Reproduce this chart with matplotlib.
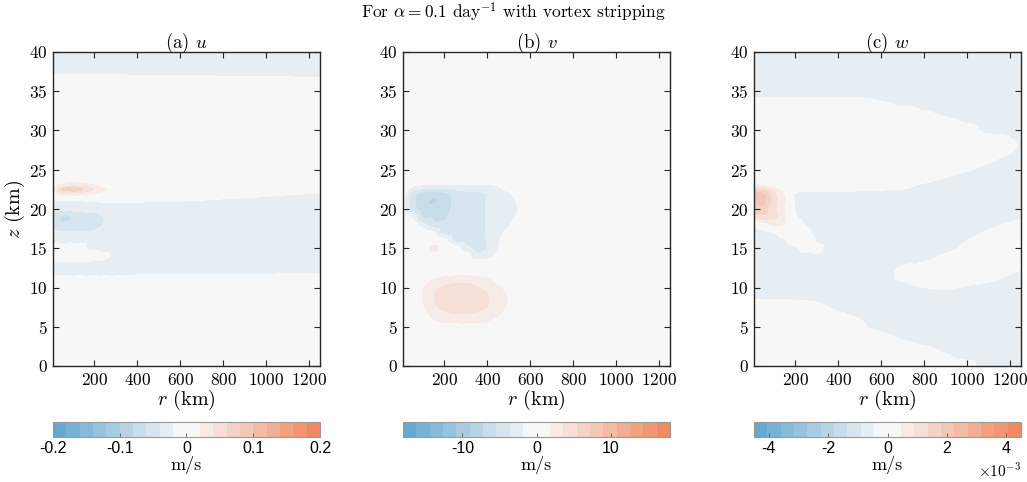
import numpy as np
import matplotlib
matplotlib.use('Agg')
import matplotlib.pyplot as plt
import matplotlib.tri as mtri
from matplotlib.colors import ListedColormap, to_rgb

plt.rcParams['font.family'] = 'serif'
plt.rcParams['font.serif'] = ['cmr10']
plt.rcParams['mathtext.fontset'] = 'cm'
plt.rcParams['axes.formatter.use_mathtext'] = True

# ---------------- DATA ----------------
# (a) u [m/s] on a coarse (z, r) grid
r_u = [8, 60, 120, 180, 240, 300, 400, 600, 900, 1250]
z_u = [0, 2, 4, 6, 8, 9, 10, 11, 12, 13, 14, 15, 16, 17, 18, 19, 20, 21, 22, 22.5, 23,
       24, 25, 27, 29, 31, 33, 35, 36, 37, 38, 40]
u = [
    [0] * 10,
    [0] * 10,
    [0] * 10,
    [0] * 10,
    [0] * 10,
    [0] * 10,
    [0] * 10,
    [-.01, -.01, -.01, -.01, -.01, -.01, 0, 0, 0, 0],
    [-.03, -.03, -.03, -.03, -.03, -.03, -.03, -.03, -.03, -.025],
    [-.03] * 10,
    [0, 0, 0, 0, -.012, -.025, -.03, -.03, -.03, -.03],
    [0, 0, 0, -.025, -.03, -.03, -.03, -.03, -.03, -.03],
    [-.03] * 10,
    [-.035, -.038, -.038, -.038, -.032, -.03, -.03, -.03, -.03, -.03],
    [-.045, -.055, -.052, -.052, -.04, -.03, -.03, -.03, -.03, -.03],
    [-.05, -.065, -.055, -.052, -.04, -.03, -.03, -.03, -.03, -.03],
    [-.035, -.035, -.032, -.03, -.03, -.03, -.03, -.03, -.03, -.03],
    [-.025, -.025, -.022, -.02, -.018, -.017, -.018, -.02, -.024, -.028],
    [.01, .03, .035, .025, .01, 0, 0, -.005, -.012, -.02],
    [.02, .065, .07, .045, .025, .005, 0, 0, 0, 0],
    [.01, .03, .035, .025, .012, 0, 0, 0, 0, 0],
    [0] * 10,
    [0] * 10,
    [0] * 10,
    [0] * 10,
    [0] * 10,
    [0] * 10,
    [0] * 10,
    [0] * 10,
    [-.018, -.018, -.018, -.018, -.018, -.018, -.02, -.02, -.022, -.025],
    [-.03] * 10,
    [-.03] * 10,
]

# (b) v [m/s]
r_v = [8, 50, 100, 150, 200, 250, 300, 350, 400, 450, 500, 550, 650, 800, 1000, 1250]
z_v = [0, 2, 3, 4, 5, 6, 7, 8, 9, 10, 11, 12, 13, 14, 15, 16, 17, 18, 19, 20, 21, 22, 23,
       24, 25, 27, 30, 35, 40]
v = [
    [0] * 16,
    [0] * 16,
    [0] * 16,
    [0] * 16,
    [0, 0, 0, .6, 1.0, 1.0, 1.0, 1.0, .8, .4, 0, 0, 0, 0, 0, 0],
    [0, 0, .5, 1.8, 2.5, 2.6, 2.7, 2.6, 2.2, 1.4, .6, 0, 0, 0, 0, 0],
    [0, 0, 1.2, 2.8, 3.6, 3.9, 3.9, 3.7, 3.2, 2.2, 1.2, .3, 0, 0, 0, 0],
    [0, .3, 1.8, 3.4, 4.2, 4.5, 4.4, 4.1, 3.7, 2.6, 1.6, .5, 0, 0, 0, 0],
    [0, .3, 1.9, 3.5, 4.3, 4.5, 4.5, 4.2, 3.7, 2.5, 1.6, .5, 0, 0, 0, 0],
    [0, 0, 1.6, 3.0, 3.8, 4.2, 4.2, 3.7, 3.0, 2.0, 1.2, .3, 0, 0, 0, 0],
    [0, 0, .5, 1.8, 2.5, 2.8, 2.8, 2.5, 2.0, 1.0, .3, 0, 0, 0, 0, 0],
    [0, 0, 0, .3, .6, .8, .8, .6, .3, 0, 0, 0, 0, 0, 0, 0],
    [0] * 16,
    [0, 0, 0, .6, .2, 0, -.6, -3.0, -2.8, -1.2, -.2, 0, 0, 0, 0, 0],
    [0, 0, .3, 2.4, .8, -.6, -3.0, -4.0, -3.5, -1.8, -.6, 0, 0, 0, 0, 0],
    [0, 0, 0, .3, -1.0, -4.0, -4.2, -4.0, -3.5, -2.0, -.9, 0, 0, 0, 0, 0],
    [0, 0, -.5, -1.6, -4.4, -4.5, -4.2, -4.0, -3.5, -2.4, -1.3, -.2, 0, 0, 0, 0],
    [0, -.3, -3.0, -4.8, -5.0, -4.6, -4.2, -4.0, -3.5, -2.8, -1.9, -.9, 0, 0, 0, 0],
    [-.3, -2.0, -5.6, -5.8, -5.6, -4.9, -4.2, -4.0, -3.5, -2.9, -2.2, -1.4, 0, 0, 0, 0],
    [-.9, -4.4, -6.2, -6.4, -6.0, -5.0, -4.2, -4.0, -3.5, -3.0, -2.4, -1.7, 0, 0, 0, 0],
    [-1.0, -4.6, -6.6, -7.4, -6.4, -5.0, -4.2, -4.0, -3.5, -3.0, -2.4, -1.5, 0, 0, 0, 0],
    [-.8, -4.2, -5.8, -6.0, -5.8, -4.6, -4.0, -3.9, -3.5, -2.7, -2.0, -.8, 0, 0, 0, 0],
    [0, -1.5, -2.0, -2.0, -2.0, -2.0, -2.0, -2.0, -2.0, -1.7, -.6, 0, 0, 0, 0, 0],
    [0] * 16,
    [0] * 16,
    [0] * 16,
    [0] * 16,
    [0] * 16,
    [0] * 16,
]

# (c) w [10^-3 m/s]
r_w = [8, 50, 100, 150, 200, 250, 300, 400, 500, 600, 700, 800, 900, 1000, 1100, 1250]
z_w = [0, 2, 4, 6, 8, 10, 12, 14, 15, 16, 17, 18, 19, 20, 21, 22, 23, 24, 26, 28, 30, 32,
       34, 36, 38, 40]
w = [
    [0, 0, 0, 0, 0, 0, 0, 0, 0, 0, 0, -.1, -.2, -.3, -.7, -.7],
    [0, 0, 0, 0, 0, 0, 0, 0, 0, -.1, -.2, -.35, -.5, -.7, -.7, -.7],
    [0, 0, 0, 0, 0, 0, 0, -.1, -.25, -.4, -.55, -.7, -.7, -.7, -.7, -.7],
    [0, 0, 0, 0, 0, -.05, -.1, -.3, -.45, -.7, -.7, -.7, -.7, -.7, -.7, -.7],
    [-.36, -.36, -.36, -.36, -.38, -.4, -.43, -.6, -.7, -.7, -.7, -.7, -.7, -.7, -.7, -.7],
    [-.7, -.7, -.7, -.7, -.7, -.7, -.7, -.7, -.7, -.7, -.6, -.45, -.4, -.5, -.6, -.7],
    [-.7, -.7, -.7, -.7, -.7, -.7, -.7, -.7, -.7, -.7, -.3, 0, 0, 0, -.1, -.5],
    [-.7, -.7, -.7, -.7, -.7, -.6, -.5, -.7, -.7, -.7, -.7, -.7, -.3, 0, 0, 0],
    [-.7, -.7, -.7, -.7, -.55, -.2, -.35, -.7, -.7, -.7, -.7, -.7, -.7, -.25, 0, 0],
    [-.7, -.7, -.7, -.5, -.1, 0, -.5, -.7, -.7, -.7, -.7, -.7, -.7, -.45, -.1, 0],
    [-.7, -.7, -.45, -.1, 0, -.2, -.7, -.7, -.7, -.7, -.7, -.7, -.7, -.7, -.35, 0],
    [-.45, .1, .5, .4, 0, -.5, -.7, -.7, -.7, -.7, -.7, -.7, -.7, -.7, -.6, -.2],
    [1.0, 1.2, 1.0, .5, -.35, -.7, -.7, -.7, -.7, -.7, -.7, -.7, -.7, -.7, -.7, -.55],
    [1.7, 1.6, 1.0, .45, -.5, -.7, -.7, -.7, -.7, -.7, -.7, -.7, -.7, -.7, -.7, -.7],
    [2.1, 1.9, 1.1, .5, -.5, -.7, -.7, -.7, -.7, -.7, -.7, -.7, -.7, -.7, -.7, -.7],
    [2.0, 1.8, 1.0, .4, -.45, -.55, -.55, -.55, -.65, -.7, -.7, -.7, -.7, -.7, -.7, -.7],
    [.6, .4, .2, 0, 0, 0, 0, 0, 0, 0, -.2, -.6, -.7, -.7, -.7, -.7],
    [0, 0, 0, 0, 0, 0, 0, 0, 0, 0, 0, 0, -.46, -.7, -.7, -.7],
    [0, 0, 0, 0, 0, 0, 0, 0, 0, 0, 0, 0, 0, 0, -.42, -.7],
    [0, 0, 0, 0, 0, 0, 0, 0, 0, 0, 0, 0, 0, 0, 0, -.5],
    [0, 0, 0, 0, 0, 0, 0, 0, 0, 0, 0, 0, 0, -.25, -.55, -.7],
    [0, 0, 0, 0, 0, 0, 0, 0, 0, 0, -.15, -.35, -.5, -.7, -.7, -.7],
    [-.42, -.42, -.42, -.42, -.42, -.42, -.42, -.42, -.42, -.5, -.7, -.7, -.7, -.7, -.7, -.7],
    [-.7] * 16,
    [-.7] * 16,
    [-.7] * 16,
]

u_levels = np.linspace(-0.2, 0.2, 21)
v_levels = np.linspace(-18, 18, 21)
w_levels = np.linspace(-4.5, 4.5, 21)

u_ticks = [-0.2, -0.1, 0, 0.1, 0.2]
u_ticklabels = ['-0.2', '-0.1', '0', '0.1', '0.2']
v_ticks = [-10, 0, 10]
v_ticklabels = ['-10', '0', '10']
w_ticks = [-4, -2, 0, 2, 4]
w_ticklabels = ['-4', '-2', '0', '2', '4']

# colormap: 10 steps blue->white, 10 steps white->red
blue_end = np.array(to_rgb('#67a9cf'))
red_end = np.array(to_rgb('#ef8a62'))
white = np.array(to_rgb('#f7f7f7'))
cols = [blue_end + (white - blue_end) * k / 9 for k in range(10)]
cols += [white + (red_end - white) * k / 9 for k in range(10)]
cmap = ListedColormap(cols)


def refined(r, z, f):
    # triangulate the grid, let matplotlib's cubic refiner smooth it
    R, Z = np.meshgrid(r, z)
    nz, nr = R.shape
    idx = np.arange(nz * nr).reshape(nz, nr)
    a = idx[:-1, :-1].ravel()
    b = idx[:-1, 1:].ravel()
    c = idx[1:, 1:].ravel()
    d = idx[1:, :-1].ravel()
    tris = np.vstack([np.column_stack([a, b, c]), np.column_stack([a, c, d])])
    tri = mtri.Triangulation(R.ravel() / 30.0, Z.ravel(), tris)
    vals = np.asarray(f, float).ravel()
    interp = mtri.CubicTriInterpolator(tri, vals, kind='geom')
    tri_f, f_f = mtri.UniformTriRefiner(tri).refine_field(vals, triinterpolator=interp, subdiv=3)
    return mtri.Triangulation(tri_f.x * 30.0, tri_f.y, tri_f.triangles), f_f


fig = plt.figure(figsize=(10.27, 4.82), dpi=100)
W, H = 1027.0, 482.0
lefts = [53, 403, 754]
panels = [
    ('(a) $u$', r_u, z_u, u, u_levels, u_ticks, u_ticklabels),
    ('(b) $v$', r_v, z_v, v, v_levels, v_ticks, v_ticklabels),
    ('(c) $w$', r_w, z_w, w, w_levels, w_ticks, w_ticklabels),
]

for i, (title, r, z, f, levels, ticks, ticklabels) in enumerate(panels):
    ax = fig.add_axes([lefts[i] / W, 116 / H, 267 / W, 314 / H])
    tri, ff = refined(r, z, f)
    cs = ax.tricontourf(tri, ff, levels=levels, cmap=cmap, antialiased=False)
    ax.set_xlim(8, 1250)
    ax.set_ylim(0, 40)
    ax.set_xticks([200, 400, 600, 800, 1000, 1200])
    ax.set_yticks(range(0, 41, 5))
    ax.tick_params(direction='in', top=True, right=True, length=4, width=0.8,
                   color='0.15', labelsize=12.5, pad=4)
    for s in ax.spines.values():
        s.set_linewidth(1.0)
        s.set_color('0.15')
    ax.set_title(title, fontsize=13.5, pad=3)
    ax.set_xlabel('$r$ (km)', fontsize=14.5, labelpad=0)
    if i == 0:
        ax.set_ylabel('$z$ (km)', fontsize=14.5, labelpad=1)

    cax = fig.add_axes([lefts[i] / W, 45 / H, 267 / W, 15 / H])
    cb = fig.colorbar(cs, cax=cax, orientation='horizontal', ticks=ticks)
    cb.ax.set_xticklabels(ticklabels, fontfamily='Liberation Sans', fontsize=11.5)
    cb.ax.tick_params(direction='in', length=3, width=0.6, color='0.35', pad=3)
    cb.outline.set_edgecolor('0.6')
    cb.outline.set_linewidth(0.8)
    cb.set_label('m/s', fontsize=13, labelpad=0)
    if i == 2:
        cax.text(1.0, -1.65, r'$\times\mathsf{10^{-3}}$', transform=cax.transAxes,
                 ha='right', va='top', fontsize=11)

fig.text(0.5, 0.975, r'For $\alpha = 0.1$ day$^{-1}$ with vortex stripping',
         ha='center', va='center', fontsize=12.5)

fig.savefig('out.png', dpi=100)
